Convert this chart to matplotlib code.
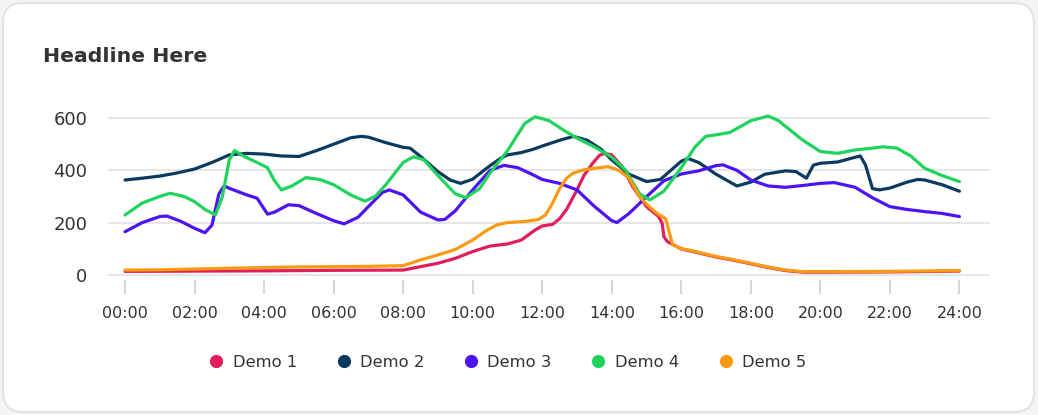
import matplotlib
matplotlib.use("Agg")
import matplotlib.pyplot as plt
from matplotlib.patches import FancyBboxPatch
from matplotlib.lines import Line2D

# --- data --- #
series_names = ["Demo 1", "Demo 2", "Demo 3", "Demo 4", "Demo 5"]
series_colors = ["#e11d5a", "#0b3a60", "#4c14f2", "#1fd35c", "#f99b12"]

demo1_hours = [0, 2, 4, 6, 8, 8.5, 9, 9.5, 10, 10.5, 11, 11.4, 11.8, 12, 12.3, 12.5, 12.7,
               13, 13.2, 13.45, 13.65, 13.8, 14, 14.3, 14.6, 15, 15.35, 15.45, 15.5, 15.6,
               16, 16.5, 17, 17.5, 18, 18.5, 19, 19.5, 20, 22, 24]
demo1_values = [13, 14, 15, 17, 18, 31, 44, 63, 89, 110, 118, 133, 172, 187, 193, 215, 250,
                325, 380, 427, 458, 465, 459, 414, 338, 261, 223, 197, 146, 127,
                99, 84, 68, 56, 42, 28, 16, 10, 10, 11, 14]

demo2_hours = [0, 0.5, 1, 1.5, 2, 2.5, 3, 3.5, 4, 4.5, 5, 5.5, 6, 6.5, 6.8, 7, 7.5, 8,
               8.2, 8.5, 9, 9.35, 9.65, 10, 10.4, 10.8, 11, 11.4, 11.75, 12, 12.5, 12.9,
               13.3, 13.7, 14, 14.5, 15, 15.4, 16, 16.2, 16.5, 17, 17.6, 18, 18.4, 19,
               19.3, 19.6, 19.8, 20, 20.5, 21, 21.15, 21.3, 21.5, 21.7, 22, 22.5, 22.8,
               23, 23.5, 24]
demo2_values = [363, 370, 378, 390, 405, 430, 459, 465, 462, 455, 453, 475, 500, 525, 530,
                527, 506, 488, 485, 453, 395, 363, 350, 366, 408, 446, 459, 468, 481, 493,
                515, 530, 515, 480, 440, 385, 357, 365, 435, 445, 430, 385, 340, 355, 385,
                398, 395, 370, 420, 427, 432, 450, 455, 420, 330, 325, 332, 355, 365, 363,
                345, 320]

demo3_hours = [0, 0.5, 1, 1.2, 1.6, 2, 2.3, 2.5, 2.7, 2.85, 3, 3.5, 3.8, 4.1, 4.3, 4.7,
               5, 5.5, 6, 6.3, 6.7, 7, 7.4, 7.6, 8, 8.5, 9, 9.2, 9.5, 10, 10.5, 10.9,
               11.3, 11.7, 12, 12.5, 13, 13.5, 14, 14.15, 14.5, 15, 15.5, 16, 16.5, 17,
               17.2, 17.6, 18, 18.5, 19, 19.5, 20, 20.4, 21, 21.5, 22, 22.5, 23, 23.5, 24]
demo3_values = [165, 200, 223, 225, 205, 178, 161, 190, 310, 340, 331, 306, 293, 232, 240,
                268, 265, 235, 207, 195, 220, 261, 315, 325, 306, 240, 210, 212, 245, 325,
                400, 419, 410, 385, 365, 350, 325, 262, 207, 200, 235, 299, 360, 386, 398,
                418, 421, 400, 363, 340, 335, 342, 350, 353, 335, 295, 261, 250, 242, 235,
                223]

demo4_hours = [0, 0.5, 1, 1.3, 1.7, 2, 2.3, 2.6, 2.8, 3, 3.15, 3.4, 3.8, 4.1, 4.3, 4.5,
               4.8, 5.2, 5.6, 6, 6.5, 6.9, 7.2, 7.5, 8, 8.3, 8.6, 9, 9.5, 9.8, 10.2, 10.5,
               11, 11.5, 11.8, 12.2, 12.6, 13, 13.5, 14, 14.4, 14.8, 15.1, 15.5, 16, 16.4,
               16.7, 17, 17.4, 18, 18.5, 18.8, 19, 19.5, 20, 20.5, 21, 21.5, 21.8, 22.2,
               22.6, 23, 23.5, 24]
demo4_values = [229, 275, 300, 312, 300, 280, 250, 229, 300, 440, 476, 455, 430, 410, 360,
                325, 340, 372, 365, 345, 305, 282, 300, 345, 430, 452, 440, 380, 310, 295,
                330, 390, 475, 580, 605, 590, 555, 523, 490, 450, 400, 310, 287, 320, 410,
                490, 530, 536, 545, 590, 608, 590, 568, 515, 472, 465, 478, 485, 490, 485,
                455, 408, 380, 357]

demo5_hours = [0, 1, 2, 3, 4, 5, 6, 7, 8, 8.5, 9, 9.5, 10, 10.4, 10.7, 11, 11.5, 11.9,
               12.1, 12.3, 12.5, 12.7, 12.9, 13.2, 13.5, 13.9, 14.2, 14.5, 14.8, 15, 15.3,
               15.55, 15.65, 15.75, 16, 16.5, 17, 17.5, 18, 18.5, 19, 19.5, 20, 22, 24]
demo5_values = [18, 19, 22, 25, 28, 30, 31, 32, 35, 57, 76, 97, 133, 170, 191, 200, 204,
                212, 230, 275, 330, 370, 390, 402, 408, 414, 400, 370, 299, 270, 235,
                215, 165, 115, 101, 86, 70, 58, 44, 30, 18, 12, 12, 13, 16]

series_hours = [demo1_hours, demo2_hours, demo3_hours, demo4_hours, demo5_hours]
series_values = [demo1_values, demo2_values, demo3_values, demo4_values, demo5_values]

x_ticks = list(range(0, 25, 2))
x_labels = ["%02d:00" % h for h in x_ticks]
y_ticks = [0, 200, 400, 600]

W, H = 1038, 415
fig = plt.figure(figsize=(W / 100, H / 100), dpi=100)
fig.patch.set_facecolor("#f4f4f4")

# card background
bg = fig.add_axes([0, 0, 1, 1], zorder=0)
bg.set_xlim(0, W)
bg.set_ylim(0, H)
bg.axis("off")
card = FancyBboxPatch((3, 3), W - 7, H - 6, boxstyle="round,pad=0,rounding_size=20",
                      facecolor="white", edgecolor="#e3e3e3", linewidth=1.5)
bg.add_patch(card)

# plot area: x 108..990 px, y 110..280 px from top
ax = fig.add_axes([108 / W, 1 - 280 / H, 882 / W, 170 / H], zorder=1)
ax.set_facecolor("none")

for hours, vals, name, col in zip(series_hours, series_values, series_names, series_colors):
    ax.plot(hours, vals, color=col, lw=2.3, label=name,
            solid_joinstyle="round", solid_capstyle="round")

ax.set_xlim(-0.49, 24.88)
ax.set_ylim(-20, 631)
ax.set_xticks(x_ticks)
ax.set_xticklabels(x_labels)
ax.set_yticks(y_ticks)
ax.grid(axis="y", color="#e2e2e2", lw=1.2)
ax.set_axisbelow(True)
for s in ax.spines.values():
    s.set_visible(False)

ax.tick_params(axis="x", length=10, width=1.2, color="#cfcfcf", pad=9,
               labelsize=11.5, labelcolor="#333333")
ax.tick_params(axis="y", length=0, pad=15, labelsize=13, labelcolor="#333333")

fig.text(43 / W, 1 - 57 / H, "Headline Here", fontsize=14.7, fontweight="bold",
         color="#333333", va="center", ha="left")

handles = [Line2D([], [], marker="o", ls="none", markersize=9.5, color=c,
                  markeredgewidth=0) for c in series_colors]
fig.legend(handles, series_names, loc="center", bbox_to_anchor=(508 / W, 1 - 362 / H),
           ncol=5, frameon=False, fontsize=11.8, handlelength=0.8, handletextpad=0.6,
           columnspacing=2.45, labelcolor="#333333")

fig.savefig("out.png", dpi=100, facecolor=fig.get_facecolor())
